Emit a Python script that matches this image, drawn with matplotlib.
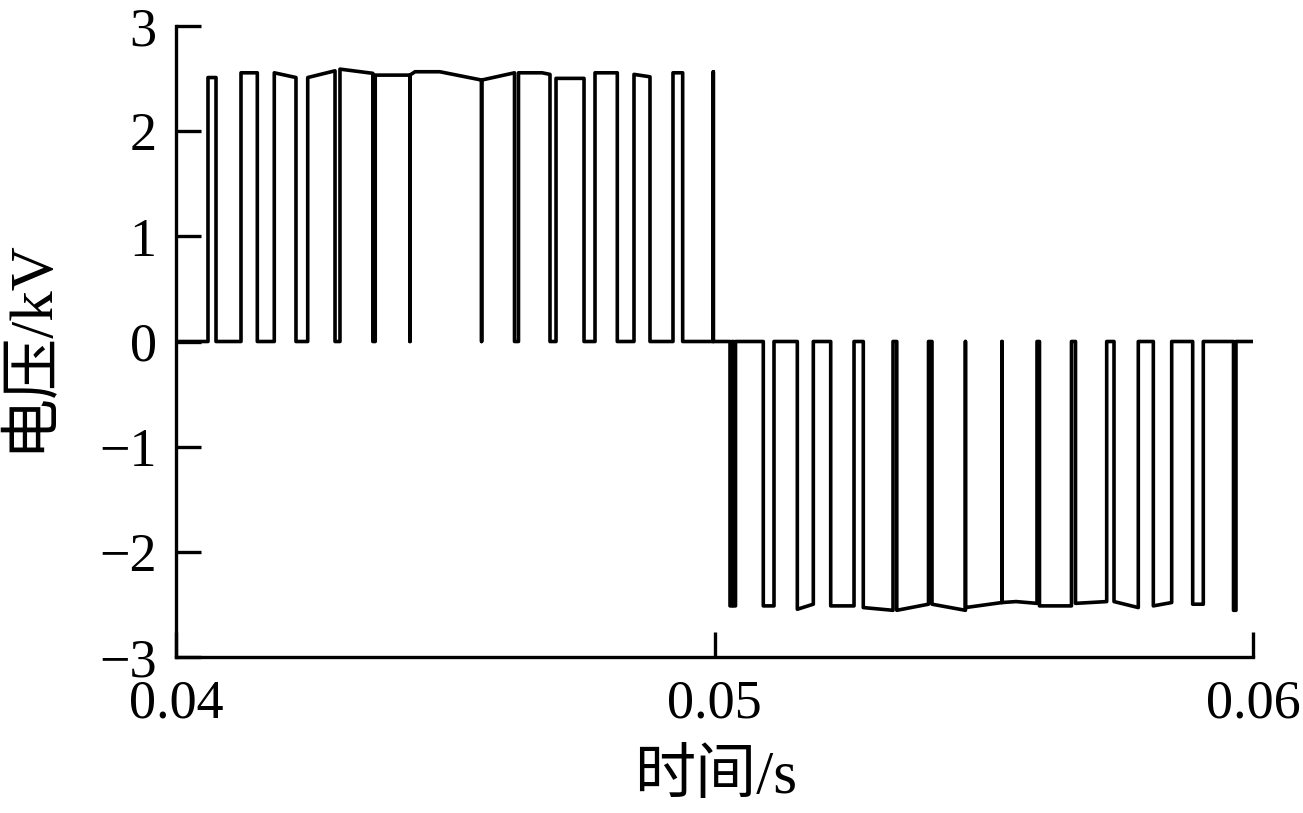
import numpy as np
import matplotlib
matplotlib.use("Agg")
import matplotlib.pyplot as plt

# ---- data (time in ms, voltage in kV) ----
pos_t_ms = [40.000, 40.594, 40.594, 40.743, 40.743,
            41.207, 41.207, 41.510, 41.510,
            41.825, 41.825, 42.228, 42.228,
            42.446, 42.446, 42.953, 42.953,
            43.045, 43.045, 43.655, 43.655, 43.700, 43.700, 44.345, 44.345, 44.345,
            44.438, 44.900, 45.675, 45.675, 45.675, 46.286, 46.286, 46.360, 46.360,
            46.800, 46.945, 46.945,
            47.057, 47.057, 47.577, 47.577,
            47.781, 47.781, 48.195, 48.195,
            48.505, 48.505, 48.802, 48.802,
            49.229, 49.229, 49.409, 49.409,
            49.978, 49.978, 49.978]
pos_u_kv = [0, 0, 2.51, 2.51, 0,
            0, 2.555, 2.555, 0,
            0, 2.555, 2.51, 0,
            0, 2.51, 2.574, 0,
            0, 2.59, 2.55, 0, 0, 2.533, 2.533, 0, 2.533,
            2.565, 2.565, 2.486, 0, 2.486, 2.555, 0, 0, 2.555,
            2.555, 2.54, 0,
            0, 2.502, 2.502, 0,
            0, 2.555, 2.555, 0,
            0, 2.54, 2.517, 0,
            0, 2.555, 2.555, 0,
            0, 2.565, 0]

neg_t_ms = [50.288, 50.288, 50.325, 50.325, 50.353, 50.353, 50.390, 50.390,
            50.906, 50.906, 51.105, 51.105,
            51.538, 51.538, 51.835, 51.835,
            52.158, 52.158, 52.591, 52.591,
            52.763, 52.763, 53.315, 53.315, 53.385, 53.385, 53.974, 53.974,
            54.039, 54.039, 54.660, 54.660, 54.660, 55.339, 55.339, 55.339,
            55.600, 55.989, 55.989, 56.035, 56.035, 56.629, 56.629, 56.704,
            56.704, 57.283, 57.283,
            57.419, 57.419, 57.870, 57.870,
            58.149, 58.149, 58.490, 58.490,
            58.880, 58.880, 59.077, 59.077,
            59.638, 59.638, 59.684, 59.684, 60.000]
neg_u_kv = [0, -2.514, -2.514, 0, 0, -2.514, -2.514, 0,
            0, -2.514, -2.514, 0,
            0, -2.546, -2.498, 0,
            0, -2.514, -2.514, 0,
            0, -2.53, -2.556, 0, 0, -2.556, -2.498, 0,
            0, -2.498, -2.556, 0, -2.53, -2.482, 0, -2.482,
            -2.473, -2.49, 0, 0, -2.514, -2.514, 0, 0,
            -2.49, -2.473, 0,
            0, -2.473, -2.53, 0,
            0, -2.514, -2.482, 0,
            0, -2.498, -2.498, 0,
            0, -2.556, -2.556, 0, 0]

x_ticks = [0.04, 0.05, 0.06]
x_tick_labels = ["0.04", "0.05", "0.06"]
y_ticks = [-3, -2, -1, 0, 1, 2, 3]
y_tick_labels = ["\u22123", "\u22122", "\u22121", "0", "1", "2", "3"]
x_label = "时间/s"
y_label = "电压/kV"

# ---- figure ----
plt.rcParams['font.family'] = ['Liberation Serif', 'Noto Sans CJK SC', 'DejaVu Sans']
W, H = 1303, 813
fig = plt.figure(figsize=(W / 100, H / 100), dpi=100)
ax = fig.add_axes([176 / W, 1 - 657 / H, (1253 - 176) / W, (657 - 26) / H])

t = np.array(pos_t_ms + neg_t_ms) / 1000.0
u = np.array(pos_u_kv + neg_u_kv)
ax.plot(t, u, color='black', lw=2.6, solid_joinstyle='round', solid_capstyle='round')

ax.set_xlim(0.04, 0.06)
ax.set_ylim(-3, 3)
ax.set_xticks(x_ticks)
ax.set_xticklabels(x_tick_labels)
ax.set_yticks(y_ticks)
ax.set_yticklabels(y_tick_labels)

for side in ['top', 'right']:
    ax.spines[side].set_visible(False)
for side in ['left', 'bottom']:
    ax.spines[side].set_linewidth(2.4)

ax.tick_params(axis='both', direction='in', length=18, width=2.4, labelsize=39)
ax.tick_params(axis='y', pad=14)
ax.tick_params(axis='x', pad=16)

fig.text(716 / W, 1 - 778 / H, x_label, fontsize=44, ha='center', va='center')
fig.text(30 / W, 1 - 345 / H, y_label, fontsize=44, ha='center', va='center',
         rotation=90)

fig.savefig("out.png", dpi=100, facecolor='white')
